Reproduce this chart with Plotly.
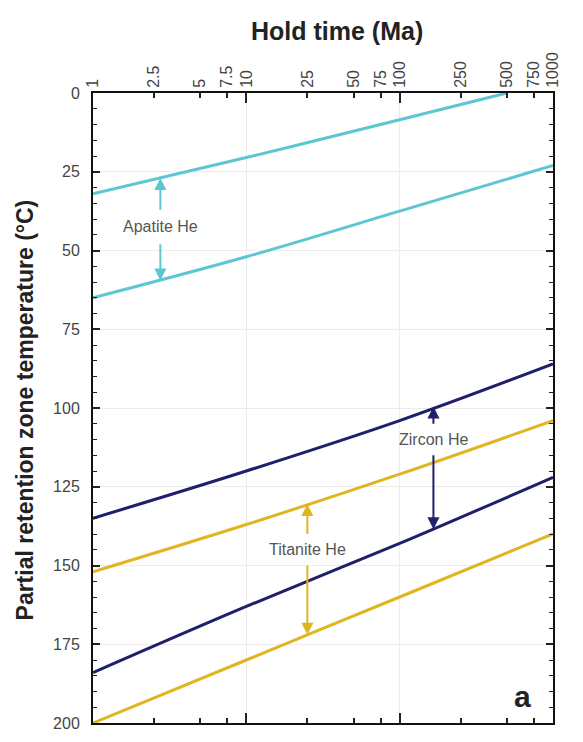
import math
import plotly.graph_objects as go

# ---- data ----
x_tick_vals = [1, 2.5, 5, 7.5, 10, 25, 50, 75, 100, 250, 500, 750, 1000]
x_tick_text = ["1", "2.5", "5", "7.5", "10", "25", "50", "75", "100", "250", "500", "750", "1000"]
y_tick_vals = [0, 25, 50, 75, 100, 125, 150, 175, 200]

apatite_upper_x = [1, 10, 100, 500]
apatite_upper_y = [32, 20.5, 8.5, 0]
apatite_lower_x = [1, 10, 100, 1000]
apatite_lower_y = [65, 52, 37.5, 23]

zircon_upper_x = [1, 10, 100, 1000]
zircon_upper_y = [135, 120, 104, 86]
zircon_lower_x = [1, 10, 100, 1000]
zircon_lower_y = [184, 163, 143, 122]

titanite_upper_x = [1, 10, 100, 1000]
titanite_upper_y = [152, 137, 121, 104]
titanite_lower_x = [1, 10, 100, 1000]
titanite_lower_y = [200, 180, 160, 140]

# arrow annotations: label, x (Ma), text y, top head y, bottom head y, top tail, bottom tail
arrow_labels = ["Apatite He", "Zircon He", "Titanite He"]
arrow_x = [2.75, 166, 25]
arrow_text_y = [42.5, 110, 145]
arrow_top = [27, 99.5, 130.5]
arrow_bottom = [59.5, 138.5, 172]
arrow_top_tail = [37.5, 105.5, 140.5]
arrow_bottom_tail = [47.5, 114.5, 149.5]

C_AP = "#5cc6d3"
C_ZR = "#1f1f6b"
C_TI = "#e0b520"
arrow_colors = [C_AP, C_ZR, C_TI]

FONT = "Liberation Sans, Arial"

fig = go.Figure()
for xs, ys, c in [
    (apatite_upper_x, apatite_upper_y, C_AP),
    (apatite_lower_x, apatite_lower_y, C_AP),
    (zircon_upper_x, zircon_upper_y, C_ZR),
    (zircon_lower_x, zircon_lower_y, C_ZR),
    (titanite_upper_x, titanite_upper_y, C_TI),
    (titanite_lower_x, titanite_lower_y, C_TI),
]:
    fig.add_trace(go.Scatter(x=xs, y=ys, mode="lines",
                             line=dict(color=c, width=3, shape="spline", smoothing=1.0),
                             showlegend=False, hoverinfo="skip"))

annotations = []
for lab, ax_, ty, top, bot, ttail, btail, c in zip(arrow_labels, arrow_x, arrow_text_y,
                                                  arrow_top, arrow_bottom, arrow_top_tail,
                                                  arrow_bottom_tail, arrow_colors):
    lx = math.log10(ax_)
    annotations.append(dict(x=lx, y=top, ax=lx, ay=ttail, xref="x", yref="y",
                            axref="x", ayref="y", showarrow=True, arrowhead=2,
                            arrowsize=1.2, arrowwidth=2, arrowcolor=c, text=""))
    annotations.append(dict(x=lx, y=bot, ax=lx, ay=btail, xref="x", yref="y",
                            axref="x", ayref="y", showarrow=True, arrowhead=2,
                            arrowsize=1.2, arrowwidth=2, arrowcolor=c, text=""))
    annotations.append(dict(x=lx, y=ty, xref="x", yref="y", text=lab, showarrow=False,
                            font=dict(size=16, color="#555555", family=FONT)))

annotations.append(dict(xref="paper", yref="paper", x=(337 - 93) / 460, y=1 + (93 - 30) / 639,
                        text="<b>Hold time (Ma)</b>", showarrow=False, xanchor="center",
                        yanchor="middle",
                        font=dict(size=25, color="#222222", family=FONT)))
annotations.append(dict(xref="paper", yref="paper", x=-(93 - 25) / 460, y=(732 - 415) / 639,
                        text="<b>Partial retention zone temperature (°C)</b>", showarrow=False,
                        textangle=-90, xanchor="center", yanchor="middle",
                        font=dict(size=23, color="#222222", family=FONT)))
annotations.append(dict(xref="paper", yref="paper", x=(522 - 93) / 460, y=(732 - 705) / 639,
                        text="<b>a</b>", showarrow=False, xanchor="center", yanchor="middle",
                        font=dict(size=30, color="#222222", family=FONT)))

fig.update_layout(
    width=583, height=742,
    margin=dict(l=93, r=30, t=93, b=10),
    paper_bgcolor="white", plot_bgcolor="white",
    annotations=annotations,
    font=dict(family=FONT, color="#444444"),
    xaxis=dict(type="log", range=[0, 3], side="top",
               tickmode="array", tickvals=x_tick_vals, ticktext=x_tick_text,
               tickangle=-90, ticks="inside", ticklen=5, tickwidth=1.5, tickcolor="#222",
               showgrid=False, zeroline=False,
               showline=True, linecolor="#111", linewidth=2, mirror="allticks",
               tickfont=dict(size=16, color="#444444"),
               minor=dict(tickmode="array", tickvals=[1, 10, 100, 1000], ticks="inside",
                          ticklen=10, tickwidth=1.5, tickcolor="#222",
                          showgrid=True, gridcolor="#ececec", gridwidth=1)),
    yaxis=dict(range=[200, 0], tickmode="array", tickvals=y_tick_vals,
               ticks="inside", ticklen=7, tickwidth=1.5, tickcolor="#222",
               showgrid=True, gridcolor="#ececec", gridwidth=1, zeroline=False,
               showline=True, linecolor="#111", linewidth=2, mirror="allticks",
               tickfont=dict(size=16, color="#444444"), ticklabelstandoff=8,
               minor=dict(dtick=5, ticks="inside", ticklen=4, tickwidth=1.2,
                          tickcolor="#222", showgrid=False)),
)

fig.write_html("out.html")
